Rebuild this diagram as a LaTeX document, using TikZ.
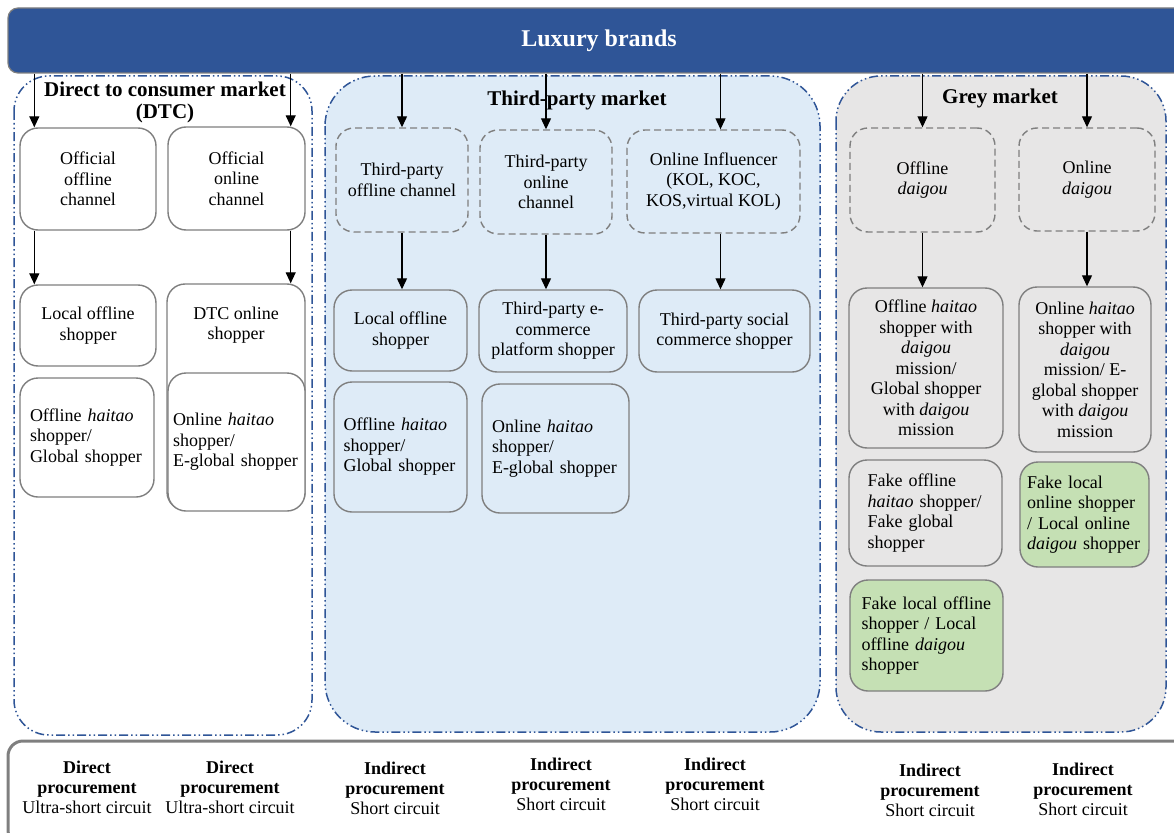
\documentclass[tikz,border=0pt]{standalone}
\usepackage{fontspec}
\setmainfont{Liberation Serif}
\usetikzlibrary{arrows.meta}

\definecolor{barblue}{HTML}{2F5597}
\definecolor{tpblue}{HTML}{DEEBF7}
\definecolor{greyfill}{HTML}{E7E6E6}
\definecolor{fakegreen}{HTML}{C5E0B4}
\definecolor{boxgrey}{HTML}{7F7F7F}

\tikzset{
  market/.style={draw=barblue, line width=1.5pt, dash pattern=on 9pt off 3pt on 1.5pt off 3pt on 1.5pt off 3pt},
  chan/.style={draw=boxgrey, line width=1.4pt, dash pattern=on 7pt off 4pt, rounded corners=18pt, inner sep=0pt, align=center},
  shop/.style={draw=boxgrey, line width=1.4pt, rounded corners=18pt, inner sep=0pt, align=center},
  arr/.style={-{Triangle[width=10pt,length=11pt]}, line width=1.2pt},
  title/.style={font=\fontsize{21}{22}\selectfont\bfseries, align=center},
  circ/.style={align=center, font=\fontsize{18}{20}\selectfont}
}

\begin{document}
\begin{tikzpicture}[x=1pt,y=-1pt,font=\fontsize{18}{20.5}\selectfont]
\useasboundingbox (0,0) rectangle (1174,832);
\clip (0,0) rectangle (1174,832);

% markets
\draw[market, fill=white, rounded corners=35pt] (14,76) rectangle (312,735);
\draw[market, fill=tpblue, rounded corners=50pt] (325,76) rectangle (820,732);
\draw[market, fill=greyfill, rounded corners=45pt] (836,76) rectangle (1166,732);
\node[title] (dtct) at (165,102) {Direct to consumer market\\(DTC)};
\node[title] (tpt) at (577,100) {Third-party market};
\node[title] (grt) at (1000,98) {Grey market};

\node[draw=boxgrey, line width=1.2pt, fill=barblue, rounded corners=10pt, minimum width=1182, minimum height=65, text=white, font=\fontsize{24}{26}\selectfont\bfseries] (bar) at (599,40.5) {Luxury brands};

% DTC
\node[shop, fill=white, minimum width=136, minimum height=102] (offch) at (88,179) {Official\\offline\\channel};
\node[shop, fill=white, minimum width=137, minimum height=103] (onch) at (236.5,178.5) {Official\\online\\channel};
\node[shop, fill=white, minimum width=136, minimum height=81] (locoff) at (88,325.5) {Local offline\\shopper};
\node[shop, fill=white, minimum width=138, minimum height=226] (dtcon) at (236,397) {\parbox[c][180pt][t]{130pt}{\centering DTC online\\shopper}};
\node[shop, fill=white, minimum width=134, minimum height=119, text width=114, align=left] (offhai) at (87,437.5) {Offline \textit{haitao}\\shopper/\\Global shopper};
\node[shop, fill=white, minimum width=137, minimum height=138, text width=127, align=left] (onhai) at (236.5,442) {Online \textit{haitao}\\shopper/\\E-global shopper};

% third-party
\node[chan, fill=tpblue, minimum width=132, minimum height=104] (tpoffch) at (402,180) {Third-party\\offline channel};
\node[chan, fill=tpblue, minimum width=132, minimum height=104] (tponch) at (546,182) {Third-party\\online\\channel};
\node[chan, fill=tpblue, minimum width=173, minimum height=103] (infl) at (713.5,181.5) {Online Influencer\\(KOL, KOC,\\KOS,virtual KOL)};
\node[shop, fill=tpblue, minimum width=133, minimum height=81] (tplocoff) at (400.5,330.5) {Local offline\\shopper};
\node[shop, fill=tpblue, minimum width=148, minimum height=82] (tpecom) at (553,331) {Third-party e-\\commerce\\platform shopper};
\node[shop, fill=tpblue, minimum width=171, minimum height=82] (tpsoc) at (724.5,331) {Third-party social\\commerce shopper};
\node[shop, fill=tpblue, minimum width=133, minimum height=130, text width=114, align=left] (tpoffhai) at (400.5,447) {Offline \textit{haitao}\\shopper/\\Global shopper};
\node[shop, fill=tpblue, minimum width=147, minimum height=129, text width=127, align=left] (tponhai) at (555.5,448.5) {Online \textit{haitao}\\shopper/\\E-global shopper};

% grey
\node[chan, fill=greyfill, minimum width=145, minimum height=104] (offdg) at (922.5,180) {Offline\\\textit{daigou}};
\node[chan, fill=greyfill, minimum width=136, minimum height=103] (ondg) at (1087,179.5) {Online\\\textit{daigou}};
\node[shop, fill=greyfill, minimum width=154, minimum height=160] (offhaidg) at (926,368) {Offline \textit{haitao}\\shopper with\\\textit{daigou}\\mission/\\Global shopper\\with \textit{daigou}\\mission};
\node[shop, fill=greyfill, minimum width=132, minimum height=165] (onhaidg) at (1085,369.5) {Online \textit{haitao}\\shopper with\\\textit{daigou}\\mission/ E-\\global shopper\\with \textit{daigou}\\mission};
\node[shop, fill=greyfill, minimum width=153, minimum height=106, text width=116, align=left] (fakeoff) at (925.5,513) {Fake offline\\\textit{haitao} shopper/\\Fake global\\shopper};
\node[shop, fill=fakegreen, minimum width=129, minimum height=105, text width=115, align=left] (fakeon) at (1084.5,514.5) {Fake local\\online shopper\\/ Local online\\\textit{daigou} shopper};
\node[shop, fill=fakegreen, minimum width=153, minimum height=111, text width=130, align=left] (fakelocoff) at (926.5,635.5) {Fake local offline\\shopper / Local\\offline \textit{daigou}\\shopper};

% arrows
\coordinate (p1) at ([xshift=15pt]offch.north west);
\coordinate (p2) at ([xshift=-15pt]onch.north east);
\coordinate (p3) at ([xshift=7pt]infl.north);
\draw[arr] (bar.south -| p1) -- (p1);
\draw[arr] (bar.south -| p2) -- (p2);
\draw[arr] (offch.south -| p1) -- (locoff.north -| p1);
\draw[arr] (onch.south -| p2) -- (dtcon.north -| p2);
\draw[arr] (bar.south -| tpoffch.north) -- (tpoffch.north);
\draw[arr] (bar.south -| tponch.north) -- (tponch.north);
\draw[arr] (bar.south -| p3) -- (p3);
\draw[arr] (tpoffch.south) -- (tpoffch.south |- tplocoff.north);
\draw[arr] (tponch.south) -- (tponch.south |- tpecom.north);
\draw[arr] (infl.south -| p3) -- (tpsoc.north -| p3);
\draw[arr] (bar.south -| offdg.north) -- (offdg.north);
\draw[arr] (bar.south -| ondg.north) -- (ondg.north);
\draw[arr] (offdg.south) -- (offdg.south |- offhaidg.north);
\draw[arr] (ondg.south) -- (ondg.south |- onhaidg.north);

% circuits
\draw[draw=boxgrey, line width=3pt, rounded corners=15pt] (8,741) rectangle (1190,845);
\node[circ] (c1) at (87,787) {\textbf{Direct}\\\textbf{procurement}\\Ultra-short circuit};
\node[circ] (c2) at (230,787.5) {\textbf{Direct}\\\textbf{procurement}\\Ultra-short circuit};
\node[circ] (c3) at (395,788) {\textbf{Indirect}\\\textbf{procurement}\\Short circuit};
\node[circ] (c4) at (561,784) {\textbf{Indirect}\\\textbf{procurement}\\Short circuit};
\node[circ] (c5) at (715,784) {\textbf{Indirect}\\\textbf{procurement}\\Short circuit};
\node[circ] (c6) at (930,790) {\textbf{Indirect}\\\textbf{procurement}\\Short circuit};
\node[circ] (c7) at (1083,789) {\textbf{Indirect}\\\textbf{procurement}\\Short circuit};
\end{tikzpicture}
\end{document}
